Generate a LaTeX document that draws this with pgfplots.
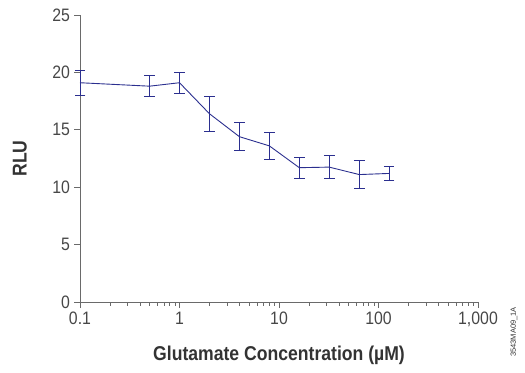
\documentclass[border=0pt]{standalone}
\usepackage{pgfplots}
\pgfplotsset{compat=1.18}
\usepackage{fontspec}
\setmainfont{Liberation Sans}
\newfontfamily\condbold[FakeStretch=0.88]{Liberation Sans Bold}
\newfontfamily\condreg[FakeStretch=0.88]{Liberation Sans}
\definecolor{lineblue}{HTML}{2B2F8F}
\definecolor{axgray}{HTML}{6A6A6A}
\definecolor{txtgray}{HTML}{333333}
\begin{document}
\begin{tikzpicture}
\path[use as bounding box] (-80bp,-71bp) rectangle (445bp,302bp);
\begin{axis}[
  scale only axis,
  width=398bp, height=287bp,
  xmode=log,
  xmin=0.1, xmax=1000,
  ymin=0, ymax=25,
  axis x line*=bottom,
  axis y line*=left,
  axis line style={axgray, line width=0.9pt},
  xtick={0.1,1,10,100,1000},
  xticklabels={0.1,1,10,100,{1,000}},
  minor xtick={0.2,0.3,0.4,0.5,0.6,0.7,0.8,0.9,2,3,4,5,6,7,8,9,20,30,40,50,60,70,80,90,200,300,400,500,600,700,800,900},
  ytick={0,5,10,15,20,25},
  tick align=outside,
  major tick length=6bp,
  minor tick length=3.5bp,
  every tick/.style={axgray, line width=0.8pt},
  /pgf/number format/assume math mode=true,
  ticklabel style={font=\condreg\fontsize{18bp}{20bp}\selectfont, text=txtgray!90},
  xticklabel style={yshift=-0.5bp},
  yticklabel style={xshift=-0.5bp},
  xlabel={Glutamate Concentration (µM)},
  ylabel={RLU},
  xlabel style={font=\condbold\fontsize{20bp}{22bp}\selectfont, text=txtgray, at={(axis description cs:0.5,-0.185)}, anchor=center},
  ylabel style={font=\condbold\fontsize{20bp}{22bp}\selectfont, text=txtgray, at={(axis description cs:-0.151,0.5)}, anchor=center},
  clip=false,
]
\addplot[lineblue, line width=0.9pt, mark=none,
  error bars/.cd, y dir=both, y explicit,
  error bar style={lineblue, line width=0.9pt},
  error mark options={rotate=90, mark size=5.3bp, lineblue, line width=0.9pt}]
  table[x=x, y=y, y error=e] {
x y e
0.1 19.1 1.1
0.5 18.8 0.9
1 19.1 0.9
2 16.4 1.5
4 14.4 1.2
8 13.6 1.15
16 11.7 0.9
32 11.75 1.0
64 11.1 1.2
128 11.2 0.65
};
\end{axis}
\node[rotate=90, font=\fontsize{7.5bp}{8bp}\selectfont, text=txtgray, anchor=center] at (434bp,-30bp) {3543MA09\_1A};
\end{tikzpicture}
\end{document}
